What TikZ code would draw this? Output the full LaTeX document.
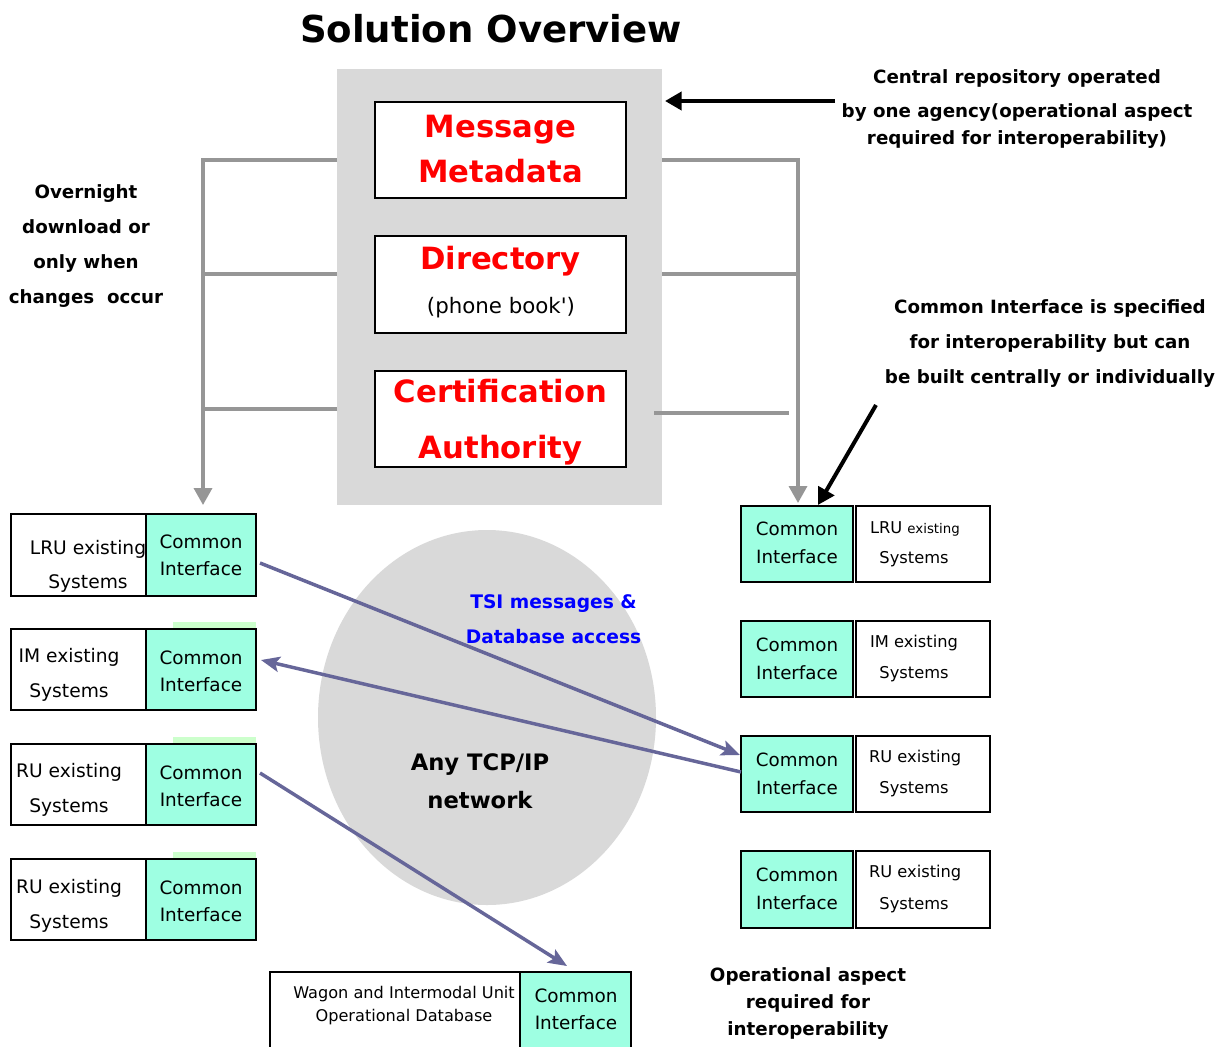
\documentclass[tikz,border=0pt]{standalone}
\usepackage{fontspec}
\setmainfont{DejaVu Sans}
\usetikzlibrary{arrows.meta,shapes.geometric}
\definecolor{repogray}{RGB}{217,217,217}
\definecolor{linegray}{RGB}{150,150,150}
\definecolor{cibg}{RGB}{158,255,226}
\definecolor{stripgreen}{RGB}{204,255,204}
\definecolor{purp}{RGB}{102,102,153}
\definecolor{tsiblue}{RGB}{0,0,255}
\newcommand\myfs[2]{\fontsize{#1}{#2}\selectfont}
\begin{document}
\begin{tikzpicture}[x=0.75pt,y=-0.75pt,
  sz/.style 2 args={minimum width=#1*0.75pt, minimum height=#2*0.75pt},
  bare/.style={inner sep=0pt, outer sep=0pt},
  tx/.style={bare, yshift=-1.5pt},
  cibox/.style={bare, draw=black, line width=0.8pt, fill=cibg},
  wbox/.style={bare, draw=black, line width=0.8pt, fill=white},
  rbox/.style={bare, draw=black, line width=1.5pt, fill=white},
  strip/.style={bare, fill=stripgreen},
  citxt/.style={tx, align=center, font=\myfs{13.8}{20.25}},
  rcitxt/.style={tx, align=center, font=\myfs{13.7}{21}},
  ltxt/.style={tx, font=\myfs{14}{18}},
  rtxt/.style={tx, font=\myfs{12.2}{16}},
  redtxt/.style={tx, align=center, text=red, font=\bfseries\myfs{23}{33.75}},
  note/.style={tx, align=center, font=\bfseries\myfs{13.7}{26.25}},
  gline/.style={draw=linegray, line width=2.6pt},
  garrow/.style={gline, -{Triangle[length=12.75pt,width=13.5pt]}},
  barrow/.style={draw=black, line width=3pt, -{Triangle[length=12.5pt,width=13.5pt]}},
  parrow/.style={draw=purp, line width=2.6pt, -{Stealth[length=14pt,width=11.5pt,inset=3pt]}}
]
\useasboundingbox (0,0) rectangle (1227,1046);
\fill[white] (0,0) rectangle (1227,1046);

% title
\node[tx, font=\bfseries\myfs{27.8}{32}] (title) at (491,27) {Solution Overview};

% central repository
\node[bare, fill=repogray, sz={325}{436}, anchor=north west] (repo) at (337,69) {};
\node[rbox, sz={251}{96}] (meta) at (500.5,150) {};
\node[redtxt] (metat) at (500.5,147.5) {Message\\Metadata};
\node[rbox, sz={251}{97}] (dir) at (500.5,284.5) {};
\node[tx, text=red, font=\bfseries\myfs{23}{28}] (dirt) at (500.5,259) {Directory};
\node[tx, font=\myfs{16}{20}] (dirp) at (501,306) {(phone book\textquotesingle)};
\node[rbox, sz={251}{96}] (cert) at (500.5,419) {};
\node[redtxt, font=\bfseries\myfs{23}{42}] (certt) at (500.5,420) {Certification\\Authority};

% network ellipse
\node[bare, ellipse, fill=repogray, sz={338}{375}] (net) at (487,717.5) {};
\node[tx, align=center, text=tsiblue, font=\bfseries\myfs{14}{26.25}] (tsi) at (553.5,617.5) {TSI messages \&\\Database access};
\node[tx, align=center, font=\bfseries\myfs{17}{28.5}] (tcp) at (480,779) {Any TCP/IP\\network};

% left systems
\node[wbox, sz={135}{82}] (w1) at (78.5,555) {};
\node[cibox, sz={110}{82}] (c1) at (201,555) {};
\node[ltxt] (w1a) at (88,547) {LRU existing};
\node[ltxt] (w1b) at (88,582) {Systems};
\node[citxt] (c1t) at (201,553.5) {Common\\Interface};

\node[strip, sz={83}{7}] (s2) at (214.5,625.5) {};
\node[wbox, sz={135}{81}] (w2) at (78.5,669.5) {};
\node[cibox, sz={110}{81}] (c2) at (201,669.5) {};
\node[ltxt] (w2a) at (69,655) {IM existing};
\node[ltxt] (w2b) at (69,691) {Systems};
\node[citxt] (c2t) at (201,669) {Common\\Interface};

\node[strip, sz={83}{7}] (s3) at (214.5,740.5) {};
\node[wbox, sz={135}{81}] (w3) at (78.5,784.5) {};
\node[cibox, sz={110}{81}] (c3) at (201,784.5) {};
\node[ltxt] (w3a) at (69,770) {RU existing};
\node[ltxt] (w3b) at (69,806) {Systems};
\node[citxt] (c3t) at (201,784) {Common\\Interface};

\node[strip, sz={83}{7}] (s4) at (214.5,855.5) {};
\node[wbox, sz={135}{81}] (w4) at (78.5,899.5) {};
\node[cibox, sz={110}{81}] (c4) at (201,899.5) {};
\node[ltxt] (w4a) at (69,886) {RU existing};
\node[ltxt] (w4b) at (69,921) {Systems};
\node[citxt] (c4t) at (201,899.5) {Common\\Interface};

% right systems
\node[cibox, sz={112}{76}] (r1) at (797,544) {};
\node[wbox, sz={134}{76}] (v1) at (923,544) {};
\node[rcitxt] (r1t) at (797,541) {Common\\Interface};
\node[rtxt, anchor=west] (v1a) at (870,527) {LRU {\myfs{10}{12}existing}};
\node[rtxt] (v1b) at (914,557) {Systems};

\node[cibox, sz={112}{76}] (r2) at (797,659) {};
\node[wbox, sz={134}{76}] (v2) at (923,659) {};
\node[rcitxt] (r2t) at (797,656.5) {Common\\Interface};
\node[rtxt, anchor=west] (v2a) at (870,641) {IM existing};
\node[rtxt] (v2b) at (914,672) {Systems};

\node[cibox, sz={112}{76}] (r3) at (797,774) {};
\node[wbox, sz={134}{76}] (v3) at (923,774) {};
\node[rcitxt] (r3t) at (797,771.5) {Common\\Interface};
\node[rtxt, anchor=west] (v3a) at (869,756) {RU existing};
\node[rtxt] (v3b) at (914,787) {Systems};

\node[cibox, sz={112}{77}] (r4) at (797,889.5) {};
\node[wbox, sz={134}{77}] (v4) at (923,889.5) {};
\node[rcitxt] (r4t) at (797,886.5) {Common\\Interface};
\node[rtxt, anchor=west] (v4a) at (869,871) {RU existing};
\node[rtxt] (v4b) at (914,903) {Systems};

% bottom database
\node[wbox, sz={250}{84}, anchor=north] (bw) at (395,972) {};
\node[cibox, sz={111}{84}, anchor=north] (bc) at (575.5,972) {};
\node[tx, align=center, font=\myfs{12.1}{17.25}] (bwt) at (404,1003.5) {Wagon and Intermodal Unit\\Operational Database};
\node[citxt] (bct) at (576,1007.5) {Common\\Interface};

% annotations
\node[note] (overn) at (86,244) {Overnight\\download or\\only when\\changes\ \ occur};
\node[note, font=\bfseries\myfs{13.7}{20.25}] (centr) at (1017,107.5) {Central repository operated\\[5.25pt]by one agency(operational aspect\\required for interoperability)};
\node[note] (cinote) at (1050,342) {Common Interface is specified\\for interoperability but can\\be built centrally or individually};
\node[note, font=\bfseries\myfs{13.7}{20.5}] (opasp) at (808,1001.5) {Operational aspect\\required for\\interoperability};

% gray distribution lines
\draw[garrow] ([shift={(0,91)}]repo.north west) -| ([shift={(2,-9)}]c1.north);
\draw[gline] ([shift={(0,205)}]repo.north west) -- ++(-134,0);
\draw[gline] ([shift={(0,340)}]repo.north west) -- ++(-134,0);
\draw[garrow] ([shift={(0,91)}]repo.north east) -| ([shift={(1,-3)}]r1.north);
\draw[gline] ([shift={(0,205)}]repo.north east) -- ++(136,0);
\draw[gline] ([shift={(-8,344)}]repo.north east) -- ++(135,0);

% black arrows
\coordinate (a1s) at (835,101);
\draw[barrow] (a1s) -- ([shift={(3,32)}]repo.north east);
\coordinate (a2s) at (876,405);
\draw[barrow] (a2s) -- ([shift={(21,-1)}]r1.north);

% message arrows
\draw[parrow] ([shift={(4,8)}]c1.east) -- ([shift={(-1,-19)}]r3.west);
\draw[parrow] ([shift={(0,-2)}]r3.west) -- ([shift={(5,-9.5)}]c2.east);
\draw[parrow] ([shift={(4,-11.5)}]c3.east) -- ([shift={(-8.5,-6)}]bc.north);
\end{tikzpicture}
\end{document}
